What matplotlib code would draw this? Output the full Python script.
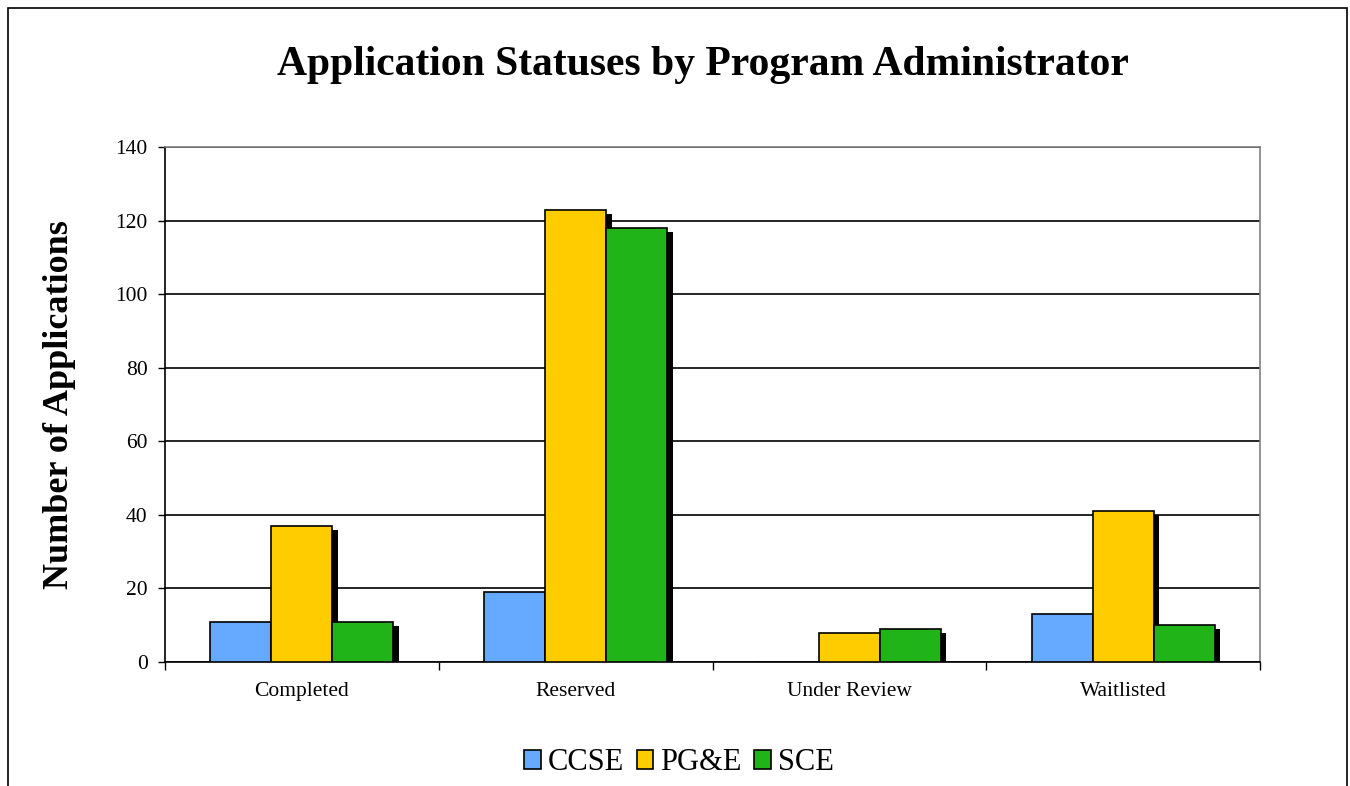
import numpy as np
import matplotlib.pyplot as plt
import matplotlib.patheffects as pe
from matplotlib.patches import Rectangle, Patch

plt.rcParams['font.family'] = ['Liberation Serif', 'DejaVu Serif']

# Data
statuses = ['Completed', 'Reserved', 'Under Review', 'Waitlisted']
admins = ['CCSE', 'PG&E', 'SCE']
ccse = [11, 19, 0, 13]
pge = [37, 123, 8, 41]
sce = [11, 118, 9, 10]
colors = ['#66AAFF', '#FFCC00', '#20B418']

fig = plt.figure(figsize=(13.5, 7.86), dpi=100)
ax = fig.add_axes([165 / 1350, 1 - 662 / 786, 1095 / 1350, 515 / 786])

x = np.arange(len(statuses))
w = 0.223
shadow = [pe.SimplePatchShadow(offset=(4, -3), shadow_rgbFace='black', alpha=1.0), pe.Normal()]
for i, (vals, c) in enumerate(zip([ccse, pge, sce], colors)):
    bars = ax.bar(x + (i - 1) * w, vals, width=w, color=c, edgecolor='black',
                  linewidth=1.2, zorder=3 + i)
    for b in bars:
        if b.get_height() > 0:
            b.set_path_effects(shadow)

ax.set_xlim(-0.5, 3.5)
ax.set_ylim(0, 140)
ax.set_yticks(np.arange(0, 141, 20))
ax.yaxis.grid(True, color='black', linewidth=1.2, zorder=0)
ax.set_axisbelow(True)
ax.set_xticks(x)
ax.set_xticklabels(statuses, fontsize=15.5)
ax.tick_params(axis='x', length=0, pad=14.5)
ax.set_xticks(np.arange(-0.5, 4.0, 1.0), minor=True)
ax.tick_params(axis='x', which='minor', length=6, direction='out', width=1)
ax.tick_params(axis='y', labelsize=15.5, length=5, direction='out', width=1, pad=7.5)

for s in ['top', 'right']:
    ax.spines[s].set_color('gray')
    ax.spines[s].set_linewidth(1.2)
for s in ['left', 'bottom']:
    ax.spines[s].set_color('black')
    ax.spines[s].set_linewidth(1.2)

ax.set_ylabel('Number of Applications', fontsize=26, fontweight='bold', labelpad=28)

fig.text(0.5205, 1 - 65 / 786, 'Application Statuses by Program Administrator',
         ha='center', va='center', fontsize=30, fontweight='bold')

# outer chart frame
fig.patches.append(Rectangle((8 / 1350, -0.02), 1339 / 1350, 1 - 8 / 786 + 0.02,
                             transform=fig.transFigure, fill=False,
                             edgecolor='black', linewidth=1.2))

handles = [Patch(facecolor=c, edgecolor='black', linewidth=1.2) for c in colors]
fig.legend(handles, admins, loc='center', bbox_to_anchor=(0.503, 1 - 763 / 786), ncol=3,
           frameon=False, fontsize=22, handlelength=0.55, handleheight=0.55,
           handletextpad=0.23, columnspacing=0.4)

fig.savefig('out.png', dpi=100)
